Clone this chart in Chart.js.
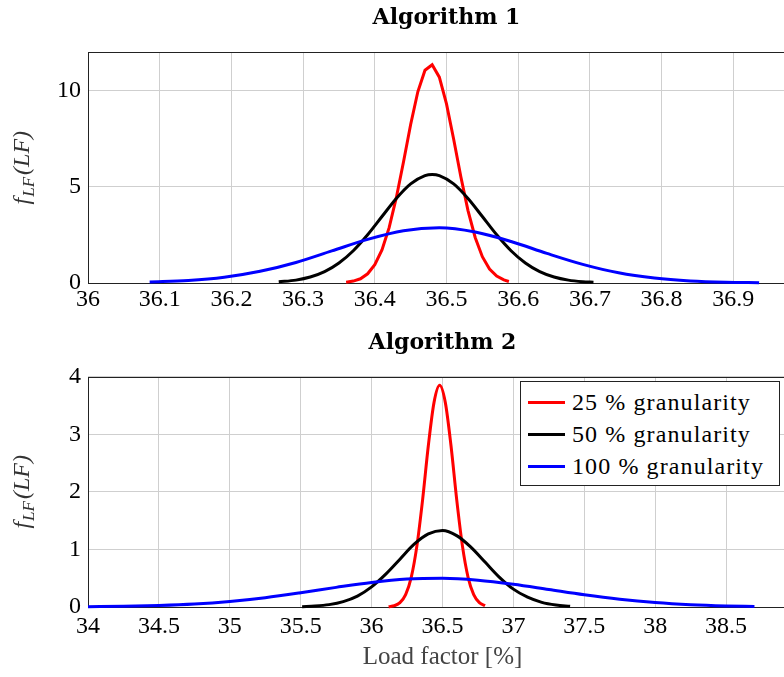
<!DOCTYPE html>
<html>
<head>
<meta charset="utf-8">
<script src="https://cdn.jsdelivr.net/npm/chart.js@4.4.1/dist/chart.umd.min.js"></script>
<style>
  html, body { margin: 0; padding: 0; background: #fff; overflow: hidden; }
  #wrap { position: relative; width: 784px; height: 677px; overflow: hidden; }
  #wrap canvas { position: absolute; left: 0; }
  #c1 { top: 0; }
  #c2 { top: 326px; }
  #legend {
    position: absolute; left: 520px; top: 381px; width: 260px; height: 105px;
    box-sizing: border-box; border: 1px solid #222; background: #fff; padding-top: 4px;
    font-family: "Liberation Serif", serif; font-size: 24px; letter-spacing: 1.1px; color: #000;
    z-index: 2;
  }
  .row { display: flex; align-items: center; height: 32px; }
  .swatch { width: 37px; height: 3px; margin-left: 7px; margin-right: 7px; flex: none; }
</style>
</head>
<body>
<div id="wrap">
  <canvas id="c1" width="830" height="320"></canvas>
  <canvas id="c2" width="830" height="351"></canvas>
  <div id="legend"></div>
</div>
<script>
// series look
const seriesLabels = ['25 % granularity', '50 % granularity', '100 % granularity'];
const seriesColors = ['#ff0000', '#000000', '#0000ff'];

// Algorithm 1
const alg1RedX = [36.36, 36.37, 36.38, 36.39, 36.40, 36.41, 36.42, 36.43, 36.44, 36.45, 36.46, 36.47, 36.48,
                  36.49, 36.50, 36.51, 36.52, 36.53, 36.54, 36.55, 36.56, 36.57, 36.58, 36.587];
const alg1RedY = [0.04, 0.10, 0.22, 0.48, 0.95, 1.72, 2.88, 4.44, 6.30, 8.25, 9.95, 11.07, 11.36,
                  10.71, 9.32, 7.48, 5.53, 3.77, 2.37, 1.37, 0.73, 0.36, 0.16, 0.08];

const alg1BlackX = [36.266, 36.29, 36.31, 36.33, 36.35, 36.37, 36.39, 36.41, 36.43, 36.45, 36.47, 36.48,
                    36.49, 36.51, 36.53, 36.55, 36.57, 36.59, 36.61, 36.63, 36.65, 36.67, 36.69, 36.705];
const alg1BlackY = [0.06, 0.15, 0.31, 0.59, 1.04, 1.68, 2.51, 3.46, 4.40, 5.16, 5.59, 5.65,
                    5.59, 5.16, 4.40, 3.46, 2.51, 1.68, 1.04, 0.59, 0.31, 0.15, 0.07, 0.04];

const alg1BlueX = [36.086, 36.14, 36.19, 36.24, 36.29, 36.34, 36.39, 36.44, 36.49, 36.54,
                   36.59, 36.64, 36.69, 36.74, 36.79, 36.84, 36.89, 36.936];
const alg1BlueY = [0.05, 0.13, 0.30, 0.61, 1.07, 1.67, 2.27, 2.72, 2.87, 2.65,
                   2.16, 1.54, 0.97, 0.53, 0.26, 0.11, 0.04, 0.015];

// Algorithm 2
const alg2RedX = [36.12, 36.16, 36.20, 36.24, 36.28, 36.32, 36.36, 36.40, 36.44, 36.48,
                  36.52, 36.56, 36.60, 36.64, 36.68, 36.72, 36.76, 36.80];
const alg2RedY = [0.006, 0.023, 0.076, 0.216, 0.52, 1.07, 1.87, 2.80, 3.55, 3.85,
                  3.55, 2.80, 1.87, 1.07, 0.52, 0.216, 0.076, 0.023];

const alg2BlackX = [35.51, 35.6, 35.7, 35.8, 35.9, 36.0, 36.1, 36.2, 36.3, 36.4, 36.5,
                    36.6, 36.7, 36.8, 36.9, 37.0, 37.1, 37.2, 37.3, 37.4];
const alg2BlackY = [0.006, 0.016, 0.041, 0.094, 0.19, 0.35, 0.57, 0.83, 1.09, 1.27, 1.33,
                    1.24, 1.04, 0.78, 0.52, 0.31, 0.17, 0.081, 0.035, 0.013];

const alg2BlueX = [34.0, 34.25, 34.5, 34.75, 35.0, 35.25, 35.5, 35.75, 36.0, 36.25, 36.5,
                   36.75, 37.0, 37.25, 37.5, 37.75, 38.0, 38.25, 38.5, 38.7];
const alg2BlueY = [0.005, 0.011, 0.026, 0.052, 0.097, 0.162, 0.247, 0.341, 0.427, 0.485, 0.499,
                   0.466, 0.395, 0.303, 0.211, 0.134, 0.077, 0.040, 0.019, 0.010];

function pts(xs, ys) {
  return xs.map((x, i) => ({ x: x, y: ys[i] }));
}

const tickFont = { family: 'Liberation Serif', size: 24, lineHeight: 1.2 };

// f_LF(LF) label along the y axis
const yLabelPlugin = {
  id: 'yLabel',
  afterDraw(chart) {
    const { ctx, chartArea } = chart;
    const cy = (chartArea.top + chartArea.bottom) / 2;
    const big = 'italic 24px "Liberation Serif"';
    const small = 'italic 17px "Liberation Serif"';
    ctx.save();
    ctx.translate(29, cy);
    ctx.rotate(-Math.PI / 2);
    ctx.fillStyle = '#333';
    ctx.textBaseline = 'alphabetic';
    ctx.textAlign = 'left';
    ctx.font = big;
    const wf = ctx.measureText('f').width + 1;
    const wr = ctx.measureText('(LF)').width;
    ctx.font = small;
    const ws = ctx.measureText('LF').width + 2;
    let x = -(wf + ws + wr) / 2;
    ctx.font = big;
    ctx.fillText('f', x, 0);
    x += wf;
    ctx.font = small;
    ctx.fillText('LF', x, 5);
    x += ws;
    ctx.font = big;
    ctx.fillText('(LF)', x, 0);
    ctx.restore();
  }
};

// axis box, drawn under the curves
const framePlugin = {
  id: 'frame',
  beforeDatasetsDraw(chart) {
    const { ctx, chartArea: a } = chart;
    ctx.save();
    ctx.strokeStyle = '#222';
    ctx.lineWidth = 1;
    ctx.strokeRect(Math.round(a.left) + 0.5, Math.round(a.top) + 0.5,
                   Math.round(a.right - a.left), Math.round(a.bottom - a.top));
    ctx.restore();
  }
};

function line(i, xs, ys, smooth) {
  return {
    label: seriesLabels[i],
    data: pts(xs, ys),
    borderColor: seriesColors[i],
    backgroundColor: seriesColors[i],
    borderWidth: 3,
    pointRadius: 0,
    fill: false,
    tension: 0,
    cubicInterpolationMode: smooth ? 'monotone' : 'default',
    clip: false,
    order: 2 - i
  };
}

function makeChart(id, cfg) {
  return new Chart(document.getElementById(id), {
    type: 'line',
    data: { datasets: cfg.datasets },
    options: {
      responsive: false,
      animation: false,
      layout: { padding: { left: 0, right: cfg.padRight, top: 0, bottom: 0 } },
      plugins: {
        legend: { display: false },
        tooltip: { enabled: false },
        title: {
          display: true,
          text: cfg.title,
          fullSize: false,
          color: '#000',
          font: { family: 'DejaVu Serif', size: 22, weight: 'bold', lineHeight: 1.2 },
          padding: cfg.titlePad
        }
      },
      scales: {
        x: {
          type: 'linear',
          min: cfg.xMin,
          max: cfg.xMax,
          afterFit: s => { s.height = cfg.xHeight; },
          grid: { color: '#cfcfcf', drawTicks: false },
          border: { display: false },
          ticks: {
            stepSize: cfg.xStep,
            autoSkip: false,
            maxRotation: 0,
            includeBounds: false,
            padding: cfg.xTickPad,
            color: '#000',
            font: tickFont,
            callback: v => String(+(+v).toFixed(1))
          },
          title: {
            display: !!cfg.xTitle,
            text: cfg.xTitle || '',
            color: '#444',
            font: { family: 'Liberation Serif', size: 25, lineHeight: 1.2 },
            padding: { top: 0, bottom: 5 }
          }
        },
        y: {
          min: 0,
          max: cfg.yMax,
          afterFit: s => { s.width = 88; },
          grid: { color: '#cfcfcf', drawTicks: false },
          border: { display: false },
          ticks: {
            stepSize: cfg.yStep,
            includeBounds: false,
            padding: 7,
            color: '#000',
            font: tickFont
          }
        }
      }
    },
    plugins: [framePlugin, yLabelPlugin]
  });
}

makeChart('c1', {
  title: 'Algorithm 1',
  titlePad: { top: 5, bottom: 21 },
  xMin: 36, xMax: 37, xStep: 0.1,
  yMax: 12, yStep: 5,
  xHeight: 37, xTickPad: 2,
  padRight: 25,
  datasets: [
    line(0, alg1RedX, alg1RedY, false),
    line(1, alg1BlackX, alg1BlackY, true),
    line(2, alg1BlueX, alg1BlueY, true)
  ]
});

makeChart('c2', {
  title: 'Algorithm 2',
  titlePad: { top: 4, bottom: 20.3 },
  xMin: 34, xMax: 39, xStep: 0.5,
  yMax: 4, yStep: 1,
  xHeight: 70, xTickPad: 5,
  xTitle: 'Load factor [%]',
  padRight: 33,
  datasets: [
    line(0, alg2RedX, alg2RedY, true),
    line(1, alg2BlackX, alg2BlackY, true),
    line(2, alg2BlueX, alg2BlueY, true)
  ]
});

// legend box for the lower plot
const legend = document.getElementById('legend');
seriesLabels.forEach((label, i) => {
  const row = document.createElement('div');
  row.className = 'row';
  const sw = document.createElement('span');
  sw.className = 'swatch';
  sw.style.background = seriesColors[i];
  const txt = document.createElement('span');
  txt.textContent = label;
  row.appendChild(sw);
  row.appendChild(txt);
  legend.appendChild(row);
});
</script>
</body>
</html>
